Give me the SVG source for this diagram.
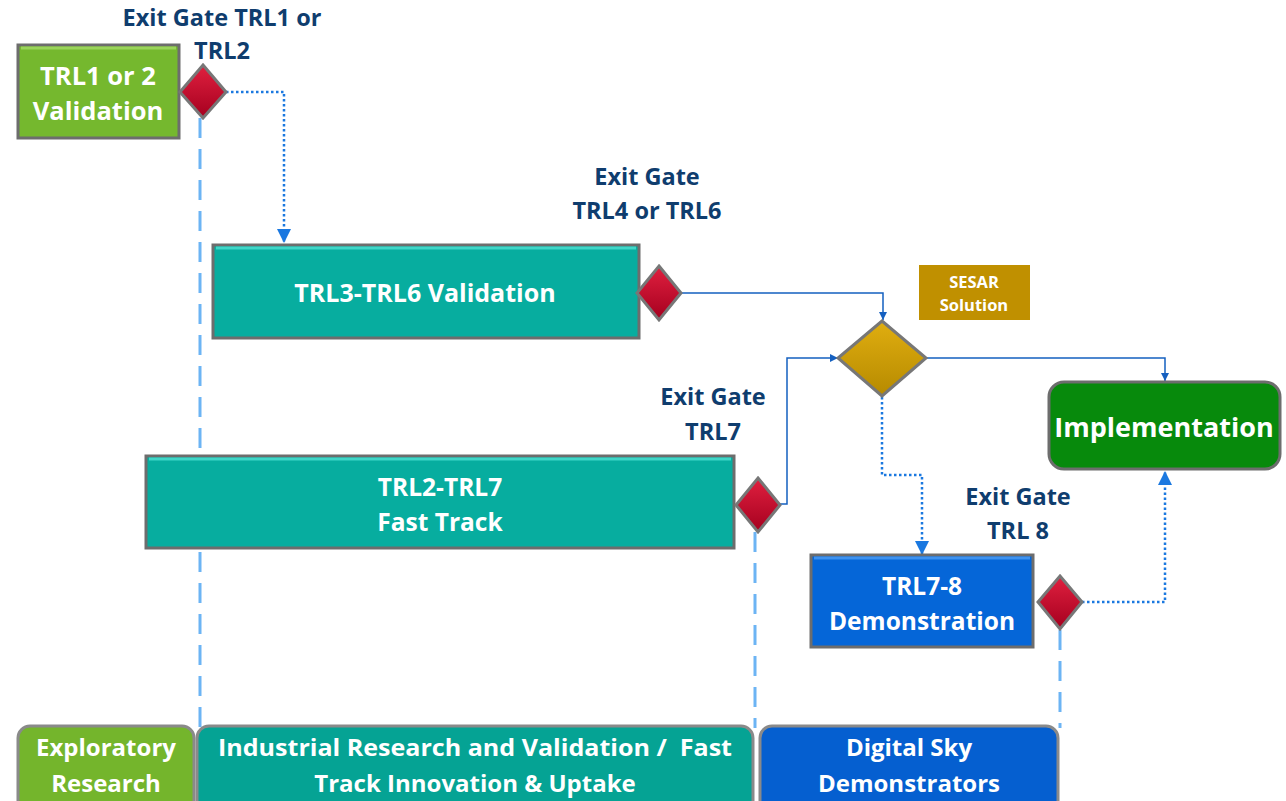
<svg xmlns="http://www.w3.org/2000/svg" width="1286" height="801" viewBox="0 0 1286 801">
<defs>
<style>
.lbl{font-family:"Open Sans","Liberation Sans",sans-serif;font-weight:bold;fill:#0f3d6e;font-size:23.5px;text-anchor:middle}
.wt{font-family:"Open Sans","Liberation Sans",sans-serif;font-weight:bold;fill:#fff;text-anchor:middle}
.box{stroke:#6d6d6d;stroke-width:3}
.dia{stroke:#777;stroke-width:3}
.vdash{stroke:#6cb4f4;stroke-width:3;stroke-dasharray:20 11;fill:none}
.dot{stroke:#1a78e0;stroke-width:2.5;stroke-dasharray:2.5 2.5;fill:none}
.sol{stroke:#1560c0;stroke-width:1.5;fill:none}
.phase{stroke:#8a8a8a;stroke-width:3}
</style>
<marker id="ar" viewBox="0 0 10 10" refX="10" refY="5" markerWidth="8" markerHeight="8" markerUnits="userSpaceOnUse" orient="auto"><path d="M0,0 L10,5 L0,10 z" fill="#1560c0"/></marker>
<marker id="ard" viewBox="0 0 10 10" refX="10" refY="5" markerWidth="14" markerHeight="14" markerUnits="userSpaceOnUse" orient="auto"><path d="M0,0 L10,5 L0,10 z" fill="#1a78e0"/></marker>
<linearGradient id="red" x1="0" y1="0" x2="0" y2="1"><stop offset="0" stop-color="#e0203f"/><stop offset="1" stop-color="#a5001f"/></linearGradient>
<linearGradient id="gold" x1="0" y1="0" x2="0" y2="1"><stop offset="0" stop-color="#e0ae10"/><stop offset="1" stop-color="#b68a00"/></linearGradient>
</defs>

<g id="phase-lines">
<path class="vdash" d="M200,118 V728"/>
<path class="vdash" d="M755,532 V728"/>
<path class="vdash" d="M1060,630 V728"/>
</g>

<g id="connectors">
<path class="dot" d="M226,92 H284 V243" marker-end="url(#ard)"/>
<path class="sol" d="M681,293 H883 V320" marker-end="url(#ar)"/>
<path class="sol" d="M780,504 H787 V358 H838" marker-end="url(#ar)"/>
<path class="sol" d="M927,358 H1165 V381" marker-end="url(#ar)"/>
<path class="dot" d="M882,397 V475 H922 V555" marker-end="url(#ard)"/>
<path class="dot" d="M1082,602 H1165 V471" marker-end="url(#ard)"/>
</g>

<g id="trl12">
<rect class="box" x="18" y="45" width="161" height="93" fill="#75b82e"/>
<path d="M21,48 H176" stroke="#9ad45a" stroke-width="3"/>
<text class="wt" font-size="25.5" x="98" y="85">TRL1 or 2</text>
<text class="wt" font-size="25.5" x="98" y="120">Validation</text>
</g>
<g id="gate1">
<polygon class="dia" points="203,65 226,92 203,118 180,92" fill="url(#red)"/>
<text class="lbl" x="222" y="26">Exit Gate TRL1 or</text>
<text class="lbl" x="222" y="59">TRL2</text>
</g>

<g id="trl36">
<rect class="box" x="213" y="245" width="426" height="93" fill="#07ad9f"/>
<path d="M216,248 H636" stroke="#3fd6c8" stroke-width="3"/>
<text class="wt" font-size="25" x="425" y="302">TRL3-TRL6 Validation</text>
</g>
<g id="gate46">
<polygon class="dia" points="659,266 681,293 659,320 637,293" fill="url(#red)"/>
<text class="lbl" x="647" y="185">Exit Gate</text>
<text class="lbl" x="647" y="219">TRL4 or TRL6</text>
</g>

<g id="sesar">
<polygon class="dia" points="882,321 926,358 882,396 838,358" fill="url(#gold)"/>
<rect x="919" y="265" width="111" height="55" fill="#c09000"/>
<text class="wt" font-size="16.5" x="974" y="288">SESAR</text>
<text class="wt" font-size="16.5" x="974" y="311">Solution</text>
</g>

<g id="fasttrack">
<rect class="box" x="146" y="456" width="588" height="92" fill="#07ad9f"/>
<path d="M149,459 H731" stroke="#3fd6c8" stroke-width="3"/>
<text class="wt" font-size="24.5" x="440" y="496">TRL2-TRL7</text>
<text class="wt" font-size="24.5" x="440" y="531">Fast Track</text>
</g>
<g id="gate7">
<polygon class="dia" points="758,478 780,505 758,532 736,505" fill="url(#red)"/>
<text class="lbl" x="713" y="405">Exit Gate</text>
<text class="lbl" x="713" y="440">TRL7</text>
</g>

<g id="demo">
<rect class="box" x="811" y="555" width="222" height="92" fill="#0566d8"/>
<path d="M814,558 H1030" stroke="#3d92f0" stroke-width="3"/>
<text class="wt" font-size="24.5" x="922" y="595">TRL7-8</text>
<text class="wt" font-size="24.5" x="922" y="630">Demonstration</text>
</g>
<g id="gate8">
<polygon class="dia" points="1060,576 1082,602 1060,629 1038,602" fill="url(#red)"/>
<text class="lbl" x="1018" y="505">Exit Gate</text>
<text class="lbl" x="1018" y="539">TRL 8</text>
</g>

<g id="implementation">
<rect class="box" x="1049" y="382" width="231" height="87" rx="15" fill="#078a0c"/>
<text class="wt" font-size="27" x="1164" y="437">Implementation</text>
</g>

<g id="exploratory">
<rect class="phase" x="18" y="726" width="176" height="90" rx="12" fill="#74b52c"/>
<text class="wt" font-size="24" x="106" y="756">Exploratory</text>
<text class="wt" font-size="24" x="106" y="792">Research</text>
</g>
<g id="industrial">
<rect class="phase" x="197" y="726" width="556" height="90" rx="12" fill="#05a394"/>
<text class="wt" font-size="24" x="475" y="756" textLength="514" lengthAdjust="spacingAndGlyphs">Industrial Research and Validation /&#160; Fast</text>
<text class="wt" font-size="24" x="475" y="792">Track Innovation &amp; Uptake</text>
</g>
<g id="digitalsky">
<rect class="phase" x="760" y="726" width="298" height="90" rx="12" fill="#055fd0"/>
<text class="wt" font-size="24" x="909" y="756">Digital Sky</text>
<text class="wt" font-size="24" x="909" y="792">Demonstrators</text>
</g>
</svg>
